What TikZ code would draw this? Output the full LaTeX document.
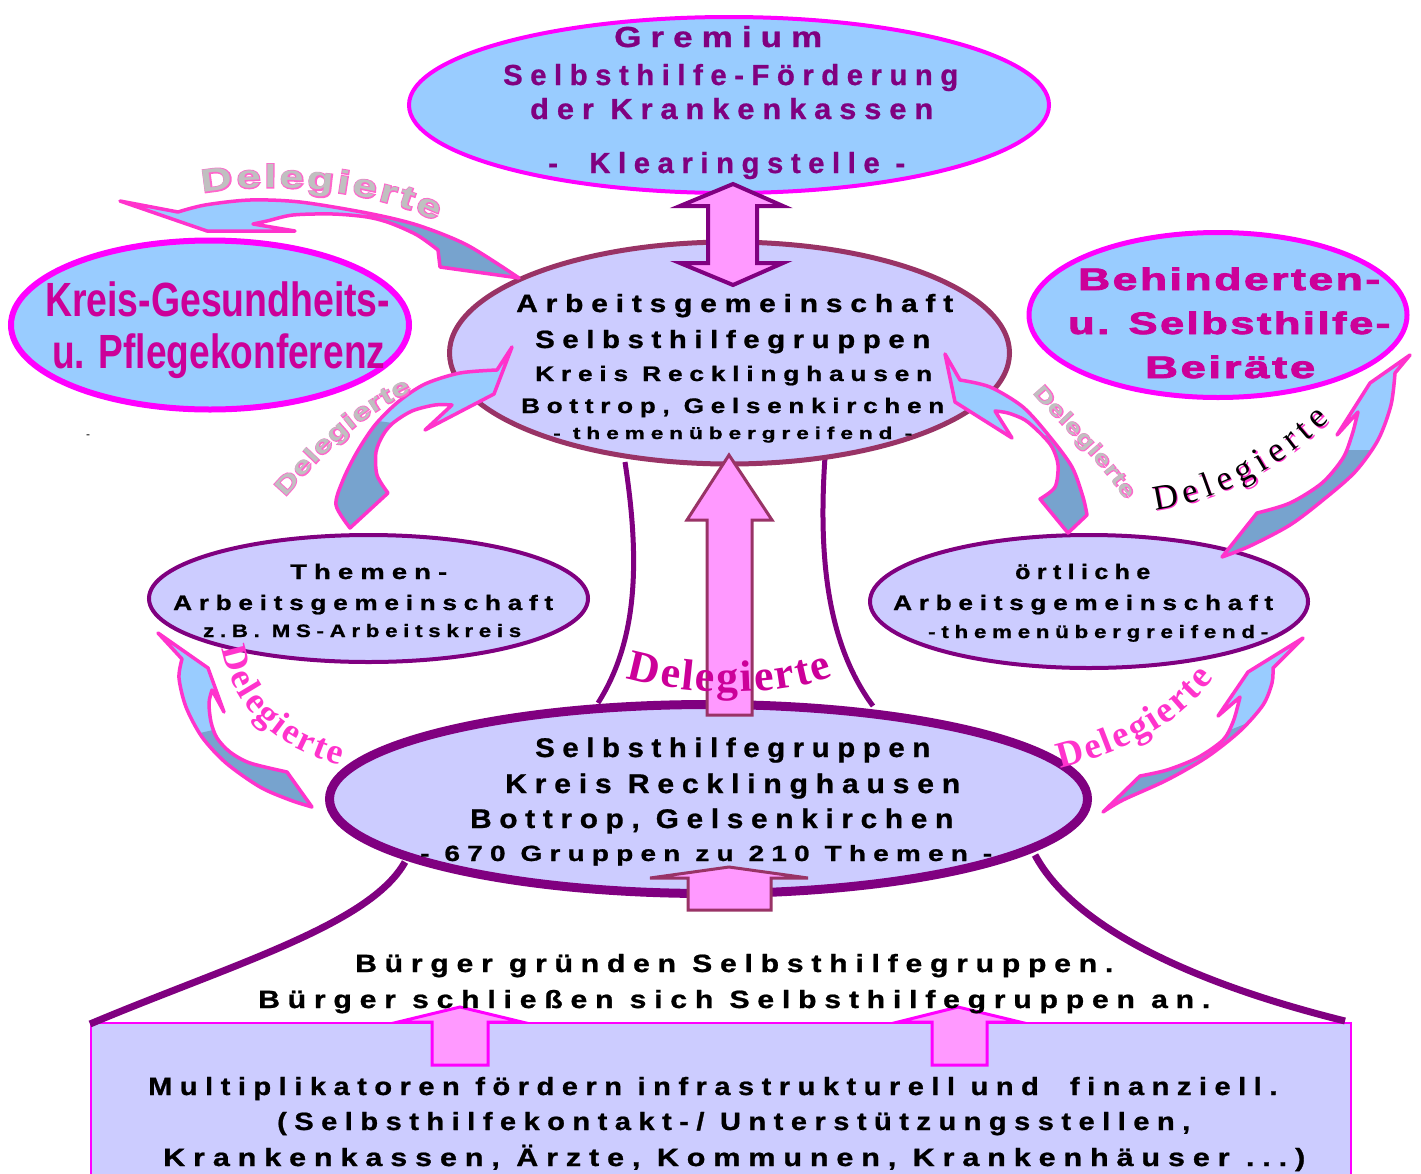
\documentclass[tikz,border=0pt]{standalone}
\usepackage{fontspec}
\usepackage{graphicx}
\usetikzlibrary{shapes.geometric,decorations.text}
\setmainfont{Liberation Sans}
\newfontfamily\spf[LetterSpace=22,FakeStretch=0.85,FakeBold=0.8]{Liberation Sans}
\newfontfamily\narrowf[FakeStretch=0.78]{Liberation Sans}
\newfontfamily\widef[LetterSpace=6,FakeBold=2.5]{Liberation Sans}
\newfontfamily\delsans[FakeStretch=1.35]{Liberation Sans}
\newfontfamily\delsansol[FakeStretch=1.35,FakeBold=7]{Liberation Sans}
\newfontfamily\delserif{Liberation Serif}
\definecolor{lblue}{HTML}{99CCFF}
\definecolor{lav}{HTML}{CCCCFF}
\definecolor{mag}{HTML}{FF00FF}
\definecolor{purp}{HTML}{800080}
\definecolor{rose}{HTML}{993366}
\definecolor{pinkfill}{HTML}{FF99FF}
\definecolor{txtmag}{HTML}{CC0099}
\definecolor{arrpink}{HTML}{FF33CC}
\definecolor{dblue}{HTML}{77A3CE}
\definecolor{lgray}{HTML}{C0C0C0}
\definecolor{olpink}{HTML}{FF66CC}
\newcommand{\fs}[1]{\fontsize{#1}{#1}\selectfont}
\newcommand{\tline}[5]{\node[anchor=base west, inner sep=0pt] (#1) at (#2) {\resizebox{#3pt}{\height}{#4#5}};}
\newcommand{\ribbon}[2]{\fill[lblue] #1; \fill[dblue] #2; \draw[ribline] #1;}
\tikzset{
  ell/.style={ellipse, inner sep=0pt, outer sep=0pt},
  pcurve/.style={draw=purp, line width=7pt},
  vcurve/.style={draw=purp, line width=5pt},
  blockA/.style={fill=pinkfill, draw=rose, line width=3pt, line join=miter},
  blockM/.style={fill=pinkfill, draw=mag, line width=3pt, line join=miter},
  ribline/.style={draw=arrpink, line width=3.5pt, line join=round},
  deco/.style={decorate, decoration={text along path, text align={fit to path}, text={#1}}}
}
\begin{document}
\begin{tikzpicture}[x=1pt,y=-1pt]
\useasboundingbox (0,0) rectangle (1421,1173);
\fill[white] (0,0) rectangle (1421,1173);

% bottom box
\node[draw=mag, fill=lav, line width=1.5pt, minimum width=1260pt, minimum height=160pt, inner sep=0pt, anchor=north west] (box) at (90,1022) {};

% purple curves
\draw[pcurve] (405,862) .. controls (370,925) and (230,965) .. (90,1024);
\draw[pcurve] (1035,855) .. controls (1075,930) and (1200,985) .. (1345,1021);
\draw[vcurve] (625,462) .. controls (640,560) and (638,640) .. (598,703);
\draw[vcurve] (825,457) .. controls (818,560) and (828,645) .. (873,706);

% ellipses
\node[ell, draw=mag, fill=lblue, line width=4pt, minimum width=640pt, minimum height=176pt] (grem) at (729,105) {};
\node[ell, draw=mag, fill=lblue, line width=6pt, minimum width=398pt, minimum height=169pt] (kreis) at (210,325) {};
\node[ell, draw=mag, fill=lblue, line width=5pt, minimum width=378pt, minimum height=165pt] (beh) at (1218,315) {};
\node[ell, draw=rose, fill=lav, line width=5pt, minimum width=560pt, minimum height=222pt] (ag) at (729.5,353) {};
\node[ell, draw=purp, fill=lav, line width=4pt, minimum width=439pt, minimum height=127pt] (them) at (368.5,598.5) {};
\node[ell, draw=purp, fill=lav, line width=4pt, minimum width=438pt, minimum height=133pt] (ort) at (1089,601.5) {};
\node[ell, draw=purp, fill=lav, line width=9pt, minimum width=758pt, minimum height=189pt] (sg) at (708.5,799) {};

% block arrows
\draw[blockA] (707,715) -- (707,520) -- (687,520) -- (729,455) -- (772,520) -- (752,520) -- (752,715) -- cycle;
\draw[fill=pinkfill, draw=purp, line width=4pt] (733,184) -- (783,206) -- (757,206) -- (757,263) -- (783,263) -- (733,285) -- (680,263) -- (708,263) -- (708,206) -- (680,206) -- cycle;
\draw[blockA] (688,910) -- (688,878) -- (650,878) -- (729,867) -- (808,878) -- (771,878) -- (771,910) -- cycle;
\draw[blockM] (432,1065) -- (432,1022) -- (398,1022) -- (460,1007) -- (522,1022) -- (488,1022) -- (488,1065) -- cycle;
\draw[blockM] (932,1065) -- (932,1022) -- (898,1022) -- (958,1007) -- (1020,1022) -- (987,1022) -- (987,1065) -- cycle;

% curved ribbon arrows
% A
\ribbon{(120,201) -- (178,212) -- plot[smooth] coordinates {(178,212) (205,205) (250,200) (300,202) (367,213) (417,225) (467,245) (519,278)} -- (440,267) -- (438,250) -- plot[smooth] coordinates {(438,250) (417,235) (390,223) (367,217) (333,214) (293,215) (267,221) (253,224)} -- (295,231) -- (207,231) -- cycle}
{plot[smooth] coordinates {(367,213) (417,225) (467,245) (519,278)} -- (440,267) -- (438,250) -- plot[smooth] coordinates {(438,250) (417,235) (390,223) (367,217)} -- cycle}
% B
\ribbon{(512,347) -- (497,370) -- plot[smooth] coordinates {(497,370) (460,373) (425,384) (398,402) (375,425) (357,452) (343,480) (336,505) (350,528)} -- (388,493) -- plot[smooth] coordinates {(388,493) (377,475) (376,452) (383,435) (393,423) (412,411) (435,405) (452,405)} -- (425,430) -- (494,394) -- cycle}
{plot[smooth] coordinates {(378,421) (357,452) (343,480) (336,505) (350,528)} -- (388,493) -- plot[smooth] coordinates {(388,493) (377,475) (376,452) (383,435) (393,423)} -- cycle}
% C
\ribbon{(945,354) -- (960,380) -- plot[smooth] coordinates {(960,380) (990,387) (1023,407) (1050,437) (1072,467) (1083,497) (1087,515)} -- (1068,533) -- (1040,499) -- plot[smooth] coordinates {(1040,499) (1055,487) (1058,465) (1052,447) (1040,433) (1025,420) (1008,413) (995,411)} -- (1012,438) -- (955,402) -- cycle}
{plot[smooth] coordinates {(1048,435) (1072,467) (1083,497) (1087,515)} -- (1068,533) -- (1040,499) -- plot[smooth] coordinates {(1040,499) (1055,487) (1058,465) (1052,447) (1042,436)} -- cycle}
% D
\ribbon{(1410,355) -- (1395,373) -- plot[smooth] coordinates {(1395,373) (1391,405) (1378,440) (1355,472) (1323,500) (1290,525) (1250,546) (1222,557)} -- (1257,513) -- plot[smooth] coordinates {(1257,513) (1290,503) (1322,483) (1343,458) (1352,435) (1356,420) (1358,412)} -- (1337,435) -- (1370,383) -- cycle}
{plot[smooth] coordinates {(1372,450) (1355,472) (1323,500) (1290,525) (1250,546) (1222,557)} -- (1257,513) -- plot[smooth] coordinates {(1257,513) (1290,503) (1322,483) (1343,458) (1348,450)} -- cycle}
% E
\ribbon{(158,633) -- (182,659) -- plot[smooth] coordinates {(182,659) (179,678) (186,707) (202,737) (226,763) (260,787) (290,800) (312,807)} -- (287,772) -- plot[smooth] coordinates {(287,772) (250,763) (230,752) (217,738) (211,722) (209,703) (212,690)} -- (224,712) -- (208,668) -- cycle}
{plot[smooth] coordinates {(200,733) (226,763) (260,787) (290,800) (312,807)} -- (287,772) -- plot[smooth] coordinates {(287,772) (250,763) (230,752) (217,738) (213,730)} -- cycle}
% F
\ribbon{(1303,638) -- (1273,668) -- plot[smooth] coordinates {(1273,668) (1272,683) (1263,705) (1240,731) (1207,757) (1167,780) (1123,800) (1103,812)} -- (1140,776) -- plot[smooth] coordinates {(1140,776) (1167,770) (1197,758) (1223,740) (1233,722) (1238,705) (1240,697)} -- (1218,716) -- (1248,672) -- cycle}
{plot[smooth] coordinates {(1250,722) (1240,731) (1207,757) (1167,780) (1123,800) (1103,812)} -- (1140,776) -- plot[smooth] coordinates {(1140,776) (1167,770) (1197,758) (1223,740) (1230,730)} -- cycle}

% texts: Gremium
\tline{g1}{614,47}{208}{\fs{29}\spf\bfseries\color{purp}}{Gremium}
\tline{g2}{503,85}{455}{\fs{29}\spf\bfseries\color{purp}}{Selbsthilfe-Förderung}
\tline{g3}{530,119}{403}{\fs{29}\spf\bfseries\color{purp}}{der Krankenkassen}
\tline{g4}{548,173}{357}{\fs{29}\spf\bfseries\color{purp}}{- \ Klearingstelle -}
% Kreis
\tline{k1}{45,316}{345}{\fs{48}\narrowf\bfseries\color{txtmag}}{Kreis-Gesundheits-}
\tline{k2}{52,368}{333}{\fs{48}\narrowf\bfseries\color{txtmag}}{u. Pflegekonferenz}
% Behinderten
\tline{b1}{1078,290}{302}{\fs{31}\widef\bfseries\color{txtmag}}{Behinderten-}
\tline{b2}{1068,334}{322}{\fs{31}\widef\bfseries\color{txtmag}}{u. Selbsthilfe-}
\tline{b3}{1145,378}{170}{\fs{31}\widef\bfseries\color{txtmag}}{Beiräte}
% AG
\tline{a1}{516,312}{437}{\fs{25}\spf\bfseries}{Arbeitsgemeinschaft}
\tline{a2}{535,348}{395}{\fs{25}\spf\bfseries}{Selbsthilfegruppen}
\tline{a3}{535,381}{397}{\fs{21}\spf\bfseries}{Kreis Recklinghausen}
\tline{a4}{521,413}{423}{\fs{21}\spf\bfseries}{Bottrop, Gelsenkirchen}
\tline{a5}{553,439}{359}{\fs{17}\spf\bfseries}{- themenübergreifend -}
% Themen
\tline{t1}{290,579}{157}{\fs{21}\spf\bfseries}{Themen-}
\tline{t2}{173,610}{380}{\fs{21}\spf\bfseries}{Arbeitsgemeinschaft}
\tline{t3}{203,637}{318}{\fs{18}\spf\bfseries}{z.B. MS-Arbeitskreis}
% oertliche
\tline{o1}{1015,579}{135}{\fs{21}\spf\bfseries}{örtliche}
\tline{o2}{893,610}{380}{\fs{21}\spf\bfseries}{Arbeitsgemeinschaft}
\tline{o3}{928,638}{340}{\fs{18}\spf\bfseries}{-themenübergreifend-}
% SG
\tline{s1}{535,757}{395}{\fs{27}\spf\bfseries}{Selbsthilfegruppen}
\tline{s2}{505,793}{455}{\fs{27}\spf\bfseries}{Kreis Recklinghausen}
\tline{s3}{470,828}{483}{\fs{27}\spf\bfseries}{Bottrop, Gelsenkirchen}
\tline{s4}{420,861}{572}{\fs{22}\spf\bfseries}{- 670 Gruppen zu 210 Themen -}
% Buerger
\tline{u1}{355,972}{758}{\fs{25}\spf\bfseries}{Bürger gründen Selbsthilfegruppen.}
\tline{u2}{258,1008}{952}{\fs{25}\spf\bfseries}{Bürger schließen sich Selbsthilfegruppen an.}
% Multiplikatoren
\tline{m1}{148,1095}{1129}{\fs{25}\spf\bfseries}{Multiplikatoren fördern infrastrukturell und \ finanziell.}
\tline{m2}{277,1130}{913}{\fs{25}\spf\bfseries}{(Selbsthilfekontakt-/ Unterstützungsstellen,}
\tline{m3}{163,1166}{1142}{\fs{25}\spf\bfseries}{Krankenkassen, Ärzte, Kommunen, Krankenhäuser ...)}
\node[anchor=base, inner sep=0pt, font=\fs{12}] (dash) at (88,438) {-};

% Delegierte labels
% A (gray outlined)
\path[deco={|\fs{32}\delsansol\bfseries\color{olpink}|Delegierte}] (203,193) .. controls (265,181) and (370,188) .. (436,221);
\path[deco={|\fs{32}\delsans\bfseries\color{lgray}|Delegierte}] (203,193) .. controls (265,181) and (370,188) .. (436,221);
% B
\path[deco={|\fs{24}\delsansol\bfseries\color{olpink}|Delegierte}] (285,497) .. controls (315,465) and (350,420) .. (412,392);
\path[deco={|\fs{24}\delsans\bfseries\color{lgray}|Delegierte}] (285,497) .. controls (315,465) and (350,420) .. (412,392);
% C
\path[deco={|\fs{21}\delsansol\bfseries\color{olpink}|Delegierte}] (1033,393) .. controls (1060,425) and (1095,455) .. (1126,500);
\path[deco={|\fs{21}\delsans\bfseries\color{lgray}|Delegierte}] (1033,393) .. controls (1060,425) and (1095,455) .. (1126,500);
% D (pink + black serif)
\path[shift={(1.5,1.5)}, deco={|\fs{35}\delserif\color{arrpink}|Delegierte}] (1155,510) .. controls (1215,502) and (1280,470) .. (1330,420);
\path[deco={|\fs{35}\delserif\color{black}|Delegierte}] (1155,510) .. controls (1215,502) and (1280,470) .. (1330,420);
% center
\path[deco={|\fs{44}\delserif\bfseries\color{txtmag}|Delegierte}] (626,678) .. controls (690,697) and (780,697) .. (833,676);
% E
\path[deco={|\fs{36}\delserif\bfseries\color{arrpink}|Delegierte}] (222,648) .. controls (232,705) and (270,745) .. (340,765);
% F
\path[deco={|\fs{37}\delserif\bfseries\color{arrpink}|Delegierte}] (1060,768) .. controls (1110,755) and (1170,735) .. (1214,678);
\end{tikzpicture}
\end{document}
